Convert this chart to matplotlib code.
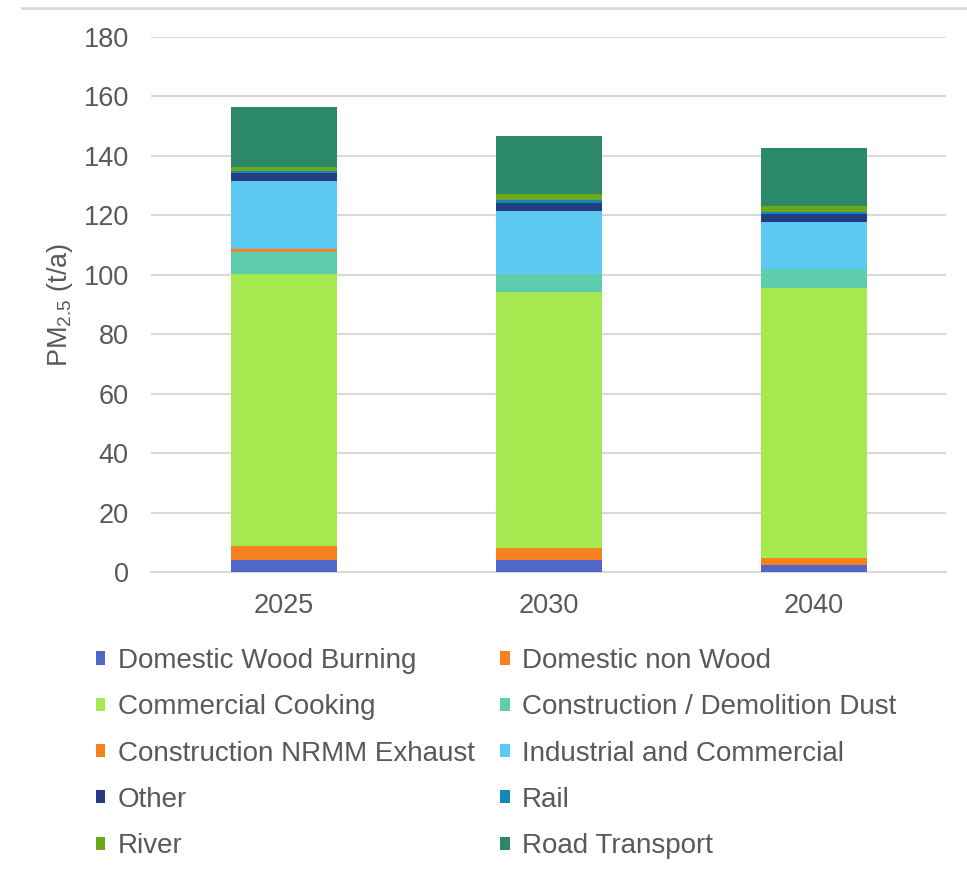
import numpy as np
import matplotlib
matplotlib.use("Agg")
import matplotlib.pyplot as plt
from matplotlib.patches import Patch
from matplotlib.lines import Line2D

plt.rcParams['font.family'] = ['Liberation Sans', 'DejaVu Sans']
plt.rcParams['mathtext.fontset'] = 'custom'
plt.rcParams['mathtext.rm'] = 'Liberation Sans'
plt.rcParams['mathtext.default'] = 'regular'

# Data (PM2.5 emissions, t/a)
years = ['2025', '2030', '2040']
sources = ['Domestic Wood Burning', 'Domestic non Wood', 'Commercial Cooking',
           'Construction / Demolition Dust', 'Construction NRMM Exhaust',
           'Industrial and Commercial', 'Other', 'Rail', 'River', 'Road Transport']
domestic_wood = [4.0, 3.9, 2.2]
domestic_non_wood = [4.8, 4.1, 2.6]
commercial_cooking = [91.6, 86.1, 90.7]
construction_dust = [7.1, 6.1, 6.4]
construction_nrmm = [1.2, 0.0, 0.0]
industrial_commercial = [22.7, 21.1, 15.7]
other = [2.7, 2.7, 3.0]
rail = [0.9, 1.1, 0.5]
river = [1.2, 2.2, 2.1]
road_transport = [20.3, 19.4, 19.4]

series = [domestic_wood, domestic_non_wood, commercial_cooking, construction_dust,
          construction_nrmm, industrial_commercial, other, rail, river, road_transport]
colors = ['#4E67C8', '#F7801F', '#A6E850', '#5ECDAE', '#F7801F',
          '#5BC9F1', '#253B82', '#1189B9', '#6BA81C', '#2B8869']

TEXT = '#595959'
GRID = '#D9D9D9'
FS = 19.5

fig = plt.figure(figsize=(9.67, 8.75), dpi=100)
ax = fig.add_axes([151 / 967, 1 - 572 / 875, 795 / 967, 535 / 875])

x = np.arange(len(years))
bottom = np.zeros(len(years))
for vals, col in zip(series, colors):
    ax.bar(x, vals, bottom=bottom, width=0.4, color=col, edgecolor='none', zorder=3)
    bottom += np.array(vals)

ax.set_xlim(-0.5, len(years) - 0.5)
ax.set_ylim(0, 180)
ax.set_yticks(np.arange(0, 181, 20))
ax.set_xticks(x)
ax.set_xticklabels(years)
ax.tick_params(axis='both', length=0, labelsize=FS, labelcolor=TEXT)
ax.tick_params(axis='y', pad=16)
ax.tick_params(axis='x', pad=15)
ax.grid(True, axis='y', color=GRID, linewidth=1.5, zorder=0)
for s in ['top', 'right', 'left']:
    ax.spines[s].set_visible(False)
ax.spines['bottom'].set_color(GRID)
ax.spines['bottom'].set_linewidth(1.5)

ax.set_ylabel('PM$_{2.5}$ (t/a)', fontsize=FS, color=TEXT, labelpad=6)

# thin border line along the top of the picture
fig.add_artist(Line2D([22 / 967, 1.0], [1 - 8 / 875, 1 - 8 / 875],
                      color=GRID, linewidth=2, transform=fig.transFigure))

# legend, filled row by row (Excel style)
order = [0, 2, 4, 6, 8, 1, 3, 5, 7, 9]
handles = [Patch(facecolor=colors[i], edgecolor='none', label=sources[i]) for i in order]
fig.legend(handles=handles, ncol=2, loc='upper left',
           bbox_to_anchor=(96 / 967, 1 - 648 / 875), frameon=False,
           fontsize=20, labelcolor=TEXT, handlelength=0.33, handleheight=0.35,
           handletextpad=0.45, columnspacing=0.93, labelspacing=0.73,
           borderpad=0, borderaxespad=0)

fig.savefig('out.png', dpi=100, facecolor='white')
